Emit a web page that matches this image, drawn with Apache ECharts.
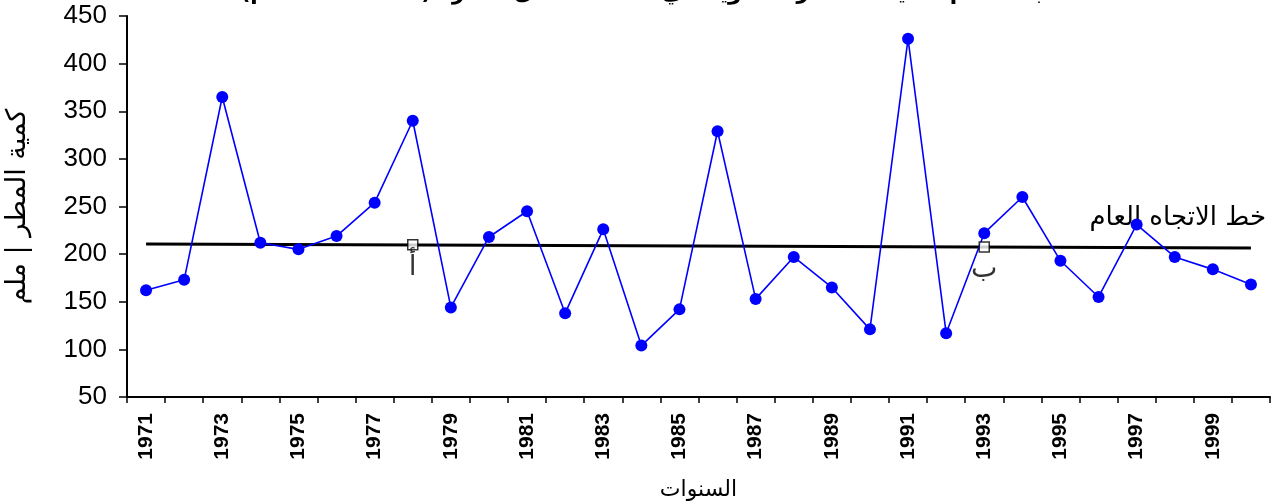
<!DOCTYPE html>
<html>
<head>
<meta charset="utf-8">
<script src="https://cdn.jsdelivr.net/npm/echarts@6/dist/echarts.min.js"></script>
<style>html,body{margin:0;padding:0;background:#fff;}#c{width:1273px;height:503px;}</style>
</head>
<body>
<div id="c"></div>
<script>
var years = ['1971','1972','1973','1974','1975','1976','1977','1978','1979','1980',
             '1981','1982','1983','1984','1985','1986','1987','1988','1989','1990',
             '1991','1992','1993','1994','1995','1996','1997','1998','1999','2000'];
var rainfall = [162, 173, 365, 212, 205, 219, 254, 340, 144, 218,
                245, 138, 226, 104, 142, 329, 153, 197, 165, 121,
                426, 117, 222, 260, 193, 155, 231, 197, 184, 168];
var trendStart = 210.7;
var trendEnd = 206.5;
var markPoints = [['1978', 209.9, 'أ'], ['1993', 207.6, 'ب']];
var yTicks = [50, 450, 50];

var trendData = years.map(function (y, i) {
  if (i === 0) return trendStart;
  if (i === years.length - 1) return trendEnd;
  return null;
});

var arabicFont = '"DejaVu Serif", "DejaVu Sans", serif';

var chart = echarts.init(document.getElementById('c'), null, {renderer: 'canvas'});
chart.setOption({
  animation: false,
  backgroundColor: '#ffffff',
  textStyle: {fontFamily: '"Liberation Sans", Arial, "DejaVu Sans", sans-serif'},
  title: {
    text: 'الاتجاه العام لكمية الأمطار السنوية في المحطة خلال الفترة (1971 - 2000 م)',
    left: 655,
    textAlign: 'center',
    top: -23,
    textStyle: {fontSize: 22, fontWeight: 'bold', color: '#000', fontFamily: '"DejaVu Sans", "Liberation Sans", sans-serif'}
  },
  grid: {left: 127, right: 3, top: 16, bottom: 106, containLabel: false, outerBoundsMode: 'none'},
  xAxis: {
    type: 'category',
    data: years,
    boundaryGap: true,
    name: 'السنوات',
    nameLocation: 'middle',
    nameGap: 82,
    nameTextStyle: {fontSize: 22, color: '#000', fontFamily: arabicFont},
    axisLine: {lineStyle: {color: '#000', width: 2}},
    axisTick: {show: true, interval: 0, length: 6, lineStyle: {color: '#000', width: 1.5}},
    axisLabel: {interval: 1, rotate: 90, fontSize: 21, fontWeight: 'bold', color: '#000', margin: 16},
    splitLine: {show: false}
  },
  yAxis: {
    type: 'value',
    min: yTicks[0],
    max: yTicks[1],
    interval: yTicks[2],
    name: 'كمية المطر | ملم',
    nameLocation: 'middle',
    nameGap: 96,
    nameRotate: 90,
    nameTextStyle: {fontSize: 27, color: '#000', fontFamily: arabicFont},
    axisLine: {show: true, lineStyle: {color: '#000', width: 2}},
    axisTick: {show: true, length: 8, lineStyle: {color: '#000', width: 1.5}},
    axisLabel: {fontSize: 26, color: '#000', margin: 20},
    splitLine: {show: false}
  },
  graphic: [{
    type: 'text',
    right: 7,
    top: 205,
    style: {text: 'خط الاتجاه العام', fill: '#000', font: '26px "DejaVu Serif", "DejaVu Sans", serif'}
  }],
  series: [
    {
      name: 'trend',
      type: 'line',
      data: trendData,
      connectNulls: true,
      symbol: 'none',
      lineStyle: {color: '#000', width: 3},
      z: 2
    },
    {
      name: 'rain',
      type: 'line',
      data: rainfall,
      symbol: 'circle',
      symbolSize: 12,
      itemStyle: {color: '#0000ff'},
      lineStyle: {color: '#0000ff', width: 1.6},
      z: 3
    },
    {
      name: 'marks',
      type: 'scatter',
      data: markPoints.map(function (m) { return {value: [m[0], m[1]], label: {formatter: m[2]}}; }),
      symbol: 'rect',
      symbolSize: 10,
      itemStyle: {color: '#fff', borderColor: '#000', borderWidth: 1.5},
      label: {show: true, position: 'bottom', distance: 3, fontSize: 28, color: '#000', fontFamily: '"DejaVu Sans", sans-serif'},
      z: 4
    }
  ]
});
</script>
</body>
</html>
